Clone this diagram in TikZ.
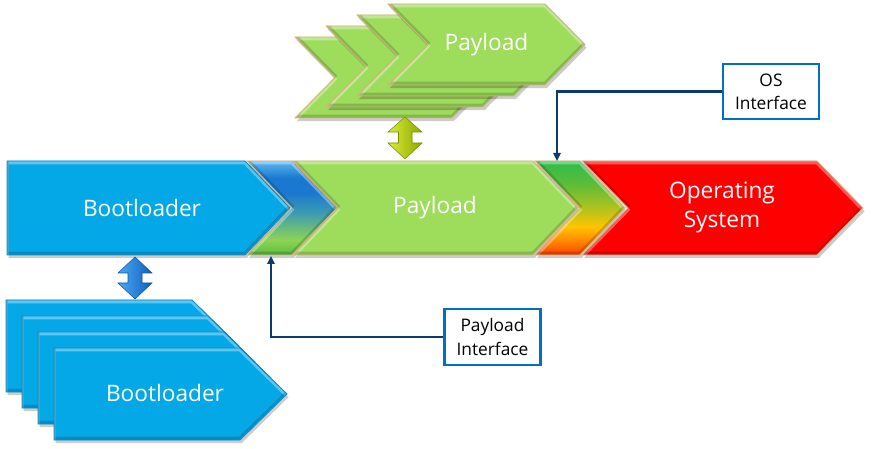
\documentclass[tikz,border=0pt]{standalone}
\usepackage{fontspec}
\setmainfont{Open Sans}
\usetikzlibrary{arrows.meta}
\definecolor{bootblue}{HTML}{05A8E6}
\definecolor{bootedge}{HTML}{0A8AC6}
\definecolor{paygreen}{HTML}{9EDC5C}
\definecolor{tanedge}{HTML}{D6B57A}
\definecolor{osred}{HTML}{FE0000}
\definecolor{navy}{HTML}{0B3B6F}
\definecolor{boxblue}{HTML}{0070C0}
\definecolor{btA}{HTML}{5CB9F2}
\definecolor{btB}{HTML}{1A78D0}
\definecolor{btC}{HTML}{3F9CB0}
\definecolor{btD}{HTML}{8ED454}
\definecolor{btE}{HTML}{58BE40}
\definecolor{gtA}{HTML}{2EBD4B}
\definecolor{gtB}{HTML}{5CBC3A}
\definecolor{gtC}{HTML}{B0C21E}
\definecolor{gtD}{HTML}{FFC400}
\definecolor{gtE}{HTML}{FF7A00}
\definecolor{gtF}{HTML}{FF3C00}
\definecolor{ylL}{HTML}{D8EE3A}
\definecolor{ylR}{HTML}{8EA600}
\definecolor{ylE}{HTML}{7A8C00}
\definecolor{blL}{HTML}{4AAAF2}
\definecolor{blR}{HTML}{135FBE}
\definecolor{blE}{HTML}{0F55A8}
\pgfdeclareverticalshading{bluetrans}{100bp}{color(0bp)=(btE); color(25bp)=(btE); color(33bp)=(btD); color(47bp)=(btC); color(58bp)=(btB); color(66bp)=(btB); color(75bp)=(btA); color(100bp)=(btA)}
\pgfdeclareverticalshading{greentrans}{100bp}{color(0bp)=(gtF); color(25bp)=(gtF); color(31bp)=(gtE); color(40bp)=(gtD); color(50bp)=(gtC); color(63bp)=(gtB); color(75bp)=(gtA); color(100bp)=(gtA)}
% chevron path: x0, top, w, bottom, d
\newcommand\chevP[5]{(#1,#2) -- ({#1+#3},#2) -- ({#1+#3+#5},{(#2+#4)/2}) -- ({#1+#3},#4) -- (#1,#4) -- ({#1+#5},{(#2+#4)/2}) -- cycle}
\newcommand\pentP[5]{(#1,#2) -- ({#1+#3},#2) -- ({#1+#3+#5},{(#2+#4)/2}) -- ({#1+#3},#4) -- (#1,#4) -- cycle}
\newcommand\shapeit[3]{%
  \fill[black, opacity=.2, xshift=1.2pt, yshift=-2.4pt] #1;
  \path[#2] #1;
  \begin{scope}
    \clip #1;
    \draw[white, opacity=.35, line width=2.6pt, yshift=-1.3pt] #1;
    \draw[black, opacity=.16, line width=2.6pt, yshift=1.3pt] #1;
  \end{scope}
  \draw[#3, line width=.6pt] #1;}
\tikzset{
  bigtxt/.style={text=white, font=\fontsize{17}{21.75}\selectfont, align=center, inner sep=0pt},
  lblbox/.style={draw=boxblue, line width=1.7pt, fill=white, align=center, font=\fontsize{13}{17.25}\selectfont, minimum width=72pt, minimum height=41.5pt, inner sep=0pt},
  conn/.style={draw=navy, line width=2pt, -{Triangle[width=5.5pt,length=6pt]}},
}
\begin{document}
\begin{tikzpicture}[x=0.75pt, y=-0.75pt]
\useasboundingbox (0,0) rectangle (872,449);
% top payload stack
\shapeit{\chevP{295}{37}{157}{118}{40}}{fill=paygreen}{tanedge}
\shapeit{\chevP{326}{26}{157}{107}{40}}{fill=paygreen}{tanedge}
\shapeit{\chevP{357}{15}{157}{96}{40}}{fill=paygreen}{tanedge}
\shapeit{\chevP{388}{4}{157}{85}{40}}{fill=paygreen}{tanedge}
\node[bigtxt] (paytop) at (486.5,44.5) {Payload};
% bottom bootloader stack
\shapeit{\pentP{6}{300}{186}{392}{47}}{fill=bootblue}{bootedge}
\shapeit{\pentP{22}{316}{186}{408}{47}}{fill=bootblue}{bootedge}
\shapeit{\pentP{38}{332}{186}{424}{47}}{fill=bootblue}{bootedge}
\shapeit{\pentP{54}{348}{186}{440}{47}}{fill=bootblue}{bootedge}
\node[bigtxt] (bootbot) at (165,393) {Bootloader};
% main band
\shapeit{\pentP{7}{161}{238}{255}{45}}{fill=bootblue}{bootedge}
\shapeit{\chevP{247}{161}{45}{255}{45}}{shading=bluetrans}{tanedge}
\shapeit{\chevP{293}{161}{240}{255}{45}}{fill=paygreen}{tanedge}
\shapeit{\chevP{535}{161}{45}{255}{45}}{shading=greentrans}{tanedge}
\shapeit{\chevP{582}{161}{235}{255}{46}}{fill=osred}{tanedge}
\node[bigtxt] (bootmain) at (142,208) {Bootloader};
\node[bigtxt] (paymain) at (435,208) {Payload};
\node[bigtxt] (os) at (722,207) {Operating\\System};
% double arrows
\path[left color=ylL, right color=ylR, draw=ylE, line width=.4pt]
  (405,117) -- (422,132) -- (412,132) -- (412,143) -- (422,143) -- (405,159) -- (388,143) -- (398.5,143) -- (398.5,132) -- (388,132) -- cycle;
\path[left color=blL, right color=blR, draw=blE, line width=.4pt]
  (135,257) -- (152,273) -- (142,273) -- (142,283) -- (152,283) -- (135,299) -- (118,283) -- (128,283) -- (128,273) -- (118,273) -- cycle;
% interface labels
\node[lblbox] (osif) at (771,91.5) {OS\\Interface};
\node[lblbox] (plif) at (492.5,337) {Payload\\Interface};
\coordinate (osin) at (557,161);
\coordinate (plin) at (271,256);
\draw[conn] (osif.west) -| (osin);
\draw[conn] (plif.west) -| (plin);
\end{tikzpicture}
\end{document}
